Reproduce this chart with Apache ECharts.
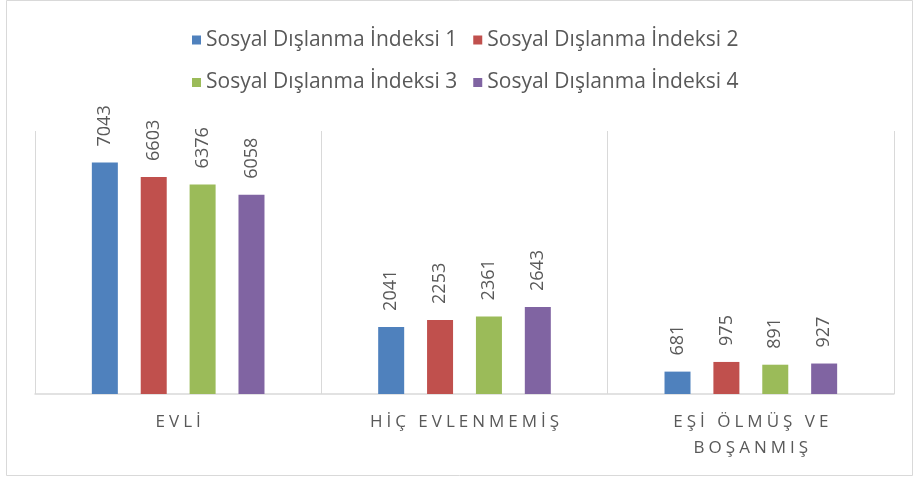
<!DOCTYPE html>
<html>
<head>
<meta charset="utf-8">
<script src="https://cdn.jsdelivr.net/npm/echarts@6/dist/echarts.min.js"></script>
<style>
html,body{margin:0;padding:0;background:#fff;}
#c{width:919px;height:477px;}
</style>
</head>
<body>
<div id="c"></div>
<script>
const categories = ['EVLİ', 'HİÇ EVLENMEMİŞ', 'EŞİ ÖLMÜŞ VE\nBOŞANMIŞ'];
const seriesNames = ['Sosyal Dışlanma İndeksi 1', 'Sosyal Dışlanma İndeksi 2', 'Sosyal Dışlanma İndeksi 3', 'Sosyal Dışlanma İndeksi 4'];
const index1 = [7043, 2041, 681];
const index2 = [6603, 2253, 975];
const index3 = [6376, 2361, 891];
const index4 = [6058, 2643, 927];
const colors = ['#4F81BD', '#C0504D', '#9BBB59', '#8064A2'];
const seriesValues = [index1, index2, index3, index4];

const FONT = 'Open Sans';
const TXT = '#595959';
const LINE = '#D9D9D9';

function spaced(name) {
  return name.split('\n').map(function (line) {
    return line.split('').map(function (ch) {
      return '{c|' + ch + '}';
    }).join('');
  }).join('\n');
}

const chart = echarts.init(document.getElementById('c'), null, {renderer: 'canvas'});
const legendCommon = {
  padding: 0,
  left: 192,
  itemWidth: 9,
  itemHeight: 9,
  itemGap: 16,
  icon: 'rect',
  selectedMode: false,
  textStyle: {fontFamily: FONT, fontSize: 21, color: TXT}
};
chart.setOption({
  animation: false,
  backgroundColor: '#fff',
  color: colors,
  graphic: [{
    type: 'rect',
    shape: {x: 6.5, y: 0.5, width: 906, height: 475},
    style: {fill: 'none', stroke: LINE, lineWidth: 1},
    silent: true
  }],
  legend: [
    Object.assign({}, legendCommon, {top: 29.5, data: [seriesNames[0], seriesNames[1]]}),
    Object.assign({}, legendCommon, {top: 72, data: [seriesNames[2], seriesNames[3]]})
  ],
  grid: {left: 35, right: 25, top: 131, bottom: 83, containLabel: false},
  xAxis: {
    type: 'category',
    data: categories,
    axisLine: {show: true, lineStyle: {color: LINE, width: 1.5}},
    axisTick: {show: false},
    splitLine: {show: true, lineStyle: {color: LINE, width: 1}},
    axisLabel: {
      margin: 15,
      interval: 0,
      formatter: spaced,
      rich: {
        c: {fontFamily: FONT, fontSize: 17, color: TXT, lineHeight: 26, padding: [0, 2, 0, 2]}
      }
    }
  },
  yAxis: {
    type: 'value',
    min: 0,
    max: 8000,
    interval: 1000,
    show: false,
    splitLine: {show: false}
  },
  series: seriesNames.map(function (n, i) {
    return {
      name: n,
      type: 'bar',
      data: seriesValues[i],
      barWidth: 26,
      barGap: '88%',
      itemStyle: {color: colors[i]},
      label: {
        show: true,
        position: 'top',
        rotate: 90,
        align: 'left',
        verticalAlign: 'middle',
        distance: 16,
        fontFamily: FONT,
        fontSize: 18,
        color: TXT
      }
    };
  })
});
</script>
</body>
</html>
